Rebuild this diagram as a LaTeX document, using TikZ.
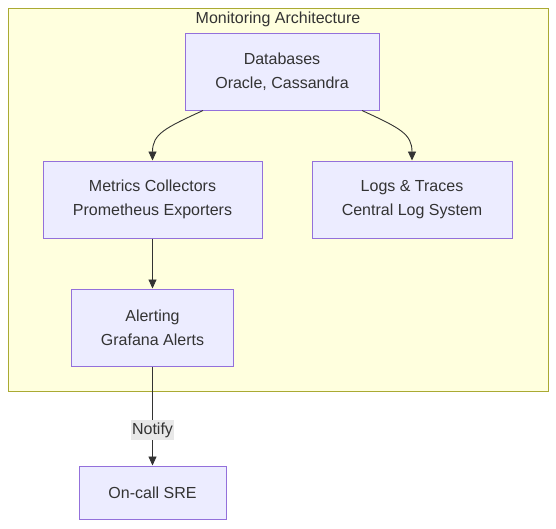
\documentclass[tikz,border=0pt]{standalone}
\usepackage{fontspec}
\setmainfont{Liberation Sans}
\usepackage{xcolor}
\usetikzlibrary{positioning}
\usetikzlibrary{arrows.meta}
\usetikzlibrary{calc}

\definecolor{boxfill}{HTML}{ECECFF}
\definecolor{boxline}{HTML}{9370DB}
\definecolor{groupfill}{HTML}{FFFFDE}
\definecolor{groupline}{HTML}{AAAA33}
\definecolor{edgeline}{HTML}{333333}
\definecolor{labelfill}{HTML}{E8E8E8}

\tikzset{
  box/.style={draw=boxline, fill=boxfill, line width=1pt, align=center,
    text=edgeline, font=\fontsize{16}{24}\selectfont, inner sep=0pt},
  flow/.style={draw=edgeline, line width=0.9pt, -{Triangle[length=9pt,width=8pt]}}
}

\begin{document}
\begin{tikzpicture}[x=1pt, y=-1pt]
 \useasboundingbox (0,0) rectangle (556,528);

 %group
 \draw[groupline, fill=groupfill, line width=1pt] (8,8) rectangle (548,391);
 \node[text=edgeline, font=\fontsize{16}{20}\selectfont] (title) at (278,19.5) {Monitoring Architecture};

 %l1
 \node[box, minimum width=194pt, minimum height=77pt] (db) at (282,71.5) {Databases\\Oracle, Cassandra};

 %l2
 \node[box, minimum width=219pt, minimum height=77pt] (mc) at (152.5,199.5) {Metrics Collectors\\Prometheus Exporters};
 \node[box, minimum width=200pt, minimum height=77pt] (lt) at (412,199.5) {Logs \& Traces\\Central Log System};

 %l3
 \node[box, minimum width=162pt, minimum height=77pt] (al) at (152.5,327.5) {Alerting\\Grafana Alerts};

 %outside
 \node[box, minimum width=147pt, minimum height=53pt] (sre) at (152.5,492.5) {On-call SRE};

 %lines
 \draw[flow] ([xshift=-79pt]db.south) .. controls (165,128) and (152.5,134) .. (mc.north);
 \draw[flow] ([xshift=80pt]db.south) .. controls (400,128) and (412,134) .. (lt.north);
 \draw[flow] (mc.south) -- (al.north);
 \draw[flow] (al.south) -- node[fill=labelfill, text=edgeline, font=\fontsize{16}{20}\selectfont,
   inner xsep=1pt, inner ysep=2.5pt, pos=0.64] (notify) {Notify} (sre.north);

\end{tikzpicture}
\end{document}
